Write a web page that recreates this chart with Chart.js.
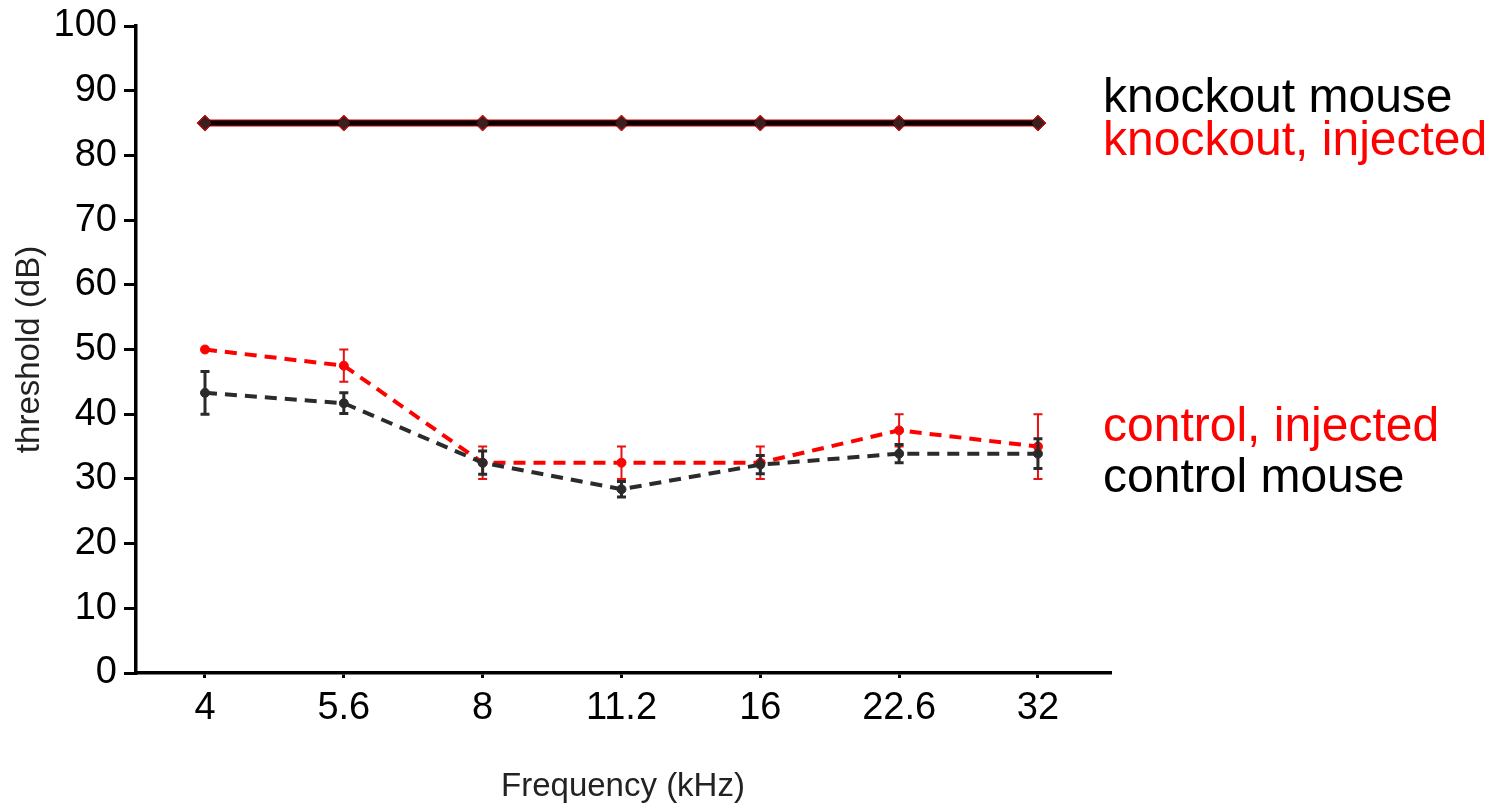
<!DOCTYPE html>
<html>
<head>
<meta charset="utf-8">
<script src="https://cdn.jsdelivr.net/npm/chart.js@4/dist/chart.umd.min.js"></script>
<style>
  html, body { margin: 0; padding: 0; background: #fff; }
  #wrap { width: 1499px; height: 807px; position: relative; }
</style>
</head>
<body>
<div id="wrap"><canvas id="c" width="1499" height="807"></canvas></div>
<script>
// ---- data ----
const freqLabels = ['4', '5.6', '8', '11.2', '16', '22.6', '32'];
const knockoutMouse = [85, 85, 85, 85, 85, 85, 85];
const knockoutInjected = [85, 85, 85, 85, 85, 85, 85];
const controlInjected = [50, 47.5, 32.5, 32.5, 32.5, 37.5, 35];
const controlInjectedErr = [0, 2.5, 2.5, 2.5, 2.5, 2.5, 5];
const controlMouse = [43.3, 41.7, 32.5, 28.4, 32.2, 33.9, 33.9];
const controlMouseErr = [3.3, 1.6, 1.8, 1.2, 1.4, 1.4, 2.3];
const yTicks = [0, 10, 20, 30, 40, 50, 60, 70, 80, 90, 100];
const seriesNames = ['knockout mouse', 'knockout, injected', 'control, injected', 'control mouse'];

const pts = arr => arr.map((v, i) => ({ x: i, y: v }));
const FONT = "'Liberation Sans', Arial, Helvetica, sans-serif";

const errorBars = {
  id: 'errorBars',
  afterDatasetsDraw(chart) {
    const ctx = chart.ctx;
    const xs = chart.scales.x, ys = chart.scales.y;
    const order = [2, 3];
    order.forEach(di => {
      const ds = chart.data.datasets[di];
      if (!ds.err) return;
      ctx.save();
      ctx.strokeStyle = ds.errColor;
      ctx.lineWidth = ds.errWidth;
      ds.data.forEach((p, i) => {
        const e = ds.err[i];
        if (!e) return;
        const x = xs.getPixelForValue(p.x);
        const y1 = ys.getPixelForValue(p.y + e);
        const y2 = ys.getPixelForValue(p.y - e);
        const cw = 4.5;
        ctx.beginPath();
        ctx.moveTo(x, y1); ctx.lineTo(x, y2);
        ctx.moveTo(x - cw, y1); ctx.lineTo(x + cw, y1);
        ctx.moveTo(x - cw, y2); ctx.lineTo(x + cw, y2);
        ctx.stroke();
      });
      ctx.restore();
    });
  }
};

const sideLabels = {
  id: 'sideLabels',
  afterDraw(chart) {
    const ctx = chart.ctx;
    ctx.save();
    ctx.font = "48px " + FONT;
    ctx.textAlign = 'left';
    ctx.textBaseline = 'alphabetic';
    const items = [
      [seriesNames[0], '#000000', 112],
      [seriesNames[1], '#ff0000', 155],
      [seriesNames[2], '#ff0000', 441],
      [seriesNames[3], '#000000', 492]
    ];
    items.forEach(([t, c, y]) => { ctx.fillStyle = c; ctx.fillText(t, 1103, y); });
    ctx.restore();
  }
};

new Chart(document.getElementById('c'), {
  type: 'line',
  data: {
    datasets: [
      {
        label: seriesNames[0], data: pts(knockoutMouse), order: 1,
        borderColor: '#000000', borderWidth: 5,
        pointStyle: 'rectRot', pointRadius: 6, pointBackgroundColor: '#3a2020', pointBorderColor: '#3a2020', pointBorderWidth: 1
      },
      {
        label: seriesNames[1], data: pts(knockoutInjected), order: 4,
        borderColor: '#e00000', borderWidth: 7,
        pointStyle: 'rectRot', pointRadius: 8, pointBackgroundColor: '#b01010', pointBorderColor: '#b01010', pointBorderWidth: 1
      },
      {
        label: seriesNames[2], data: pts(controlInjected), order: 3,
        err: controlInjectedErr, errColor: '#e81010', errWidth: 2,
        borderColor: '#ff0000', borderWidth: 4, borderDash: [12, 8],
        pointStyle: 'circle', pointRadius: 4.5, pointBackgroundColor: '#ff0000', pointBorderColor: '#ff0000', pointBorderWidth: 1
      },
      {
        label: seriesNames[3], data: pts(controlMouse), order: 2,
        err: controlMouseErr, errColor: '#2a2a2a', errWidth: 3,
        borderColor: '#2b2b2b', borderWidth: 4, borderDash: [12, 8],
        pointStyle: 'circle', pointRadius: 4.5, pointBackgroundColor: '#2b2b2b', pointBorderColor: '#2b2b2b', pointBorderWidth: 1
      }
    ]
  },
  options: {
    responsive: false,
    animation: false,
    devicePixelRatio: 1,
    layout: { padding: { left: 0, top: 23, right: 389, bottom: 0 } },
    plugins: { legend: { display: false }, tooltip: { enabled: false } },
    scales: {
      x: {
        type: 'linear',
        min: -0.497, max: 6.519,
        afterBuildTicks: s => { s.ticks = freqLabels.map((_, i) => ({ value: i })); },
        afterFit: s => { s.height = 134; },
        grid: { drawOnChartArea: false, drawTicks: true, tickLength: 5, color: '#000', lineWidth: 3 },
        border: { display: true, color: '#000', width: 3.5 },
        ticks: {
          callback: v => freqLabels[v],
          color: '#000', font: { family: FONT, size: 38 }, padding: 8, maxRotation: 0, autoSkip: false
        },
        title: {
          display: true, text: 'Frequency (kHz)', color: '#222',
          font: { family: FONT, size: 33 }, padding: { top: 0, bottom: 0 }
        }
      },
      y: {
        min: 0, max: 100,
        afterBuildTicks: s => { s.ticks = yTicks.map(v => ({ value: v })); },
        afterFit: s => { s.width = 136; },
        grid: { drawOnChartArea: false, drawTicks: true, tickLength: 12, color: '#000', lineWidth: 3 },
        border: { display: true, color: '#000', width: 3.5 },
        ticks: { color: '#000', font: { family: FONT, size: 38, lineHeight: 1 }, padding: 7 },
        title: {
          display: true, text: 'threshold (dB)', color: '#222',
          font: { family: FONT, size: 33 }, padding: { top: 10, bottom: 0 }
        }
      }
    }
  },
  plugins: [errorBars, sideLabels]
});
</script>
</body>
</html>
